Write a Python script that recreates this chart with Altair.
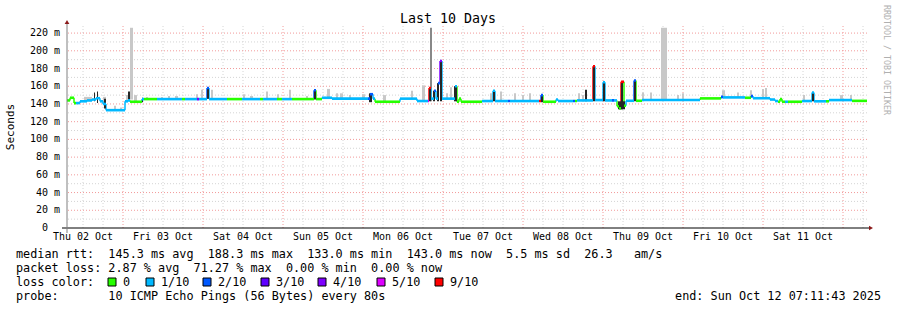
import altair as alt
import pandas as pd

START = pd.Timestamp("2025-10-02 07:11:43")
SPAN_H = 240.0

# median rtt steps: hours since start, value (ms), lost pings out of 10
med_h = [0.0, 0.9, 2.1, 2.7, 3.9, 6.0, 7.5, 8.7, 9.9, 10.8, 11.7, 17.4, 18.3, 18.9, 22.5, 23.1,
         27.0, 34.5, 35.4, 39.0, 39.6, 42.0, 42.6, 48.0, 52.5, 57.9, 58.8, 63.0, 64.5, 67.5,
         74.1, 74.7, 76.5, 79.5, 90.3, 90.9, 91.8, 92.4, 99.9, 105.0, 108.3, 108.6, 109.2,
         110.1, 110.7, 111.3, 111.9, 112.5, 116.4, 117.0, 117.6, 118.2, 124.5, 127.8, 128.4,
         132.3, 132.9, 141.6, 142.2, 142.8, 146.7, 147.3, 151.8, 152.4, 153.0, 157.8, 158.4,
         160.8, 161.4, 163.5, 164.1, 165.0, 165.6, 166.2, 167.1, 167.7, 170.1, 170.7, 172.5,
         189.9, 196.2, 196.8, 203.4, 205.2, 205.8, 210.9, 212.4, 213.3, 213.9, 214.5, 215.4,
         216.3, 220.5, 223.5, 224.1, 227.7, 228.6, 235.5]
med_v = [144, 147, 141, 141, 143, 144, 145, 146.5, 143, 140, 133, 143, 144, 142.5, 145.5, 145.5,
         145.5, 145.5, 145.5, 145.5, 145.5, 158, 145.5, 145.5, 145.5, 145.5, 145.5, 145.5, 145.5, 145.5,
         155.5, 145.5, 147, 146, 146, 151, 146, 142.5, 146, 143.3, 143.3, 158, 146,
         155, 146, 163.5, 188.5, 146, 160, 142.5, 146, 142.5, 143.3, 155, 143.3,
         143.3, 143.3, 143.3, 150, 142.5, 145, 143.3, 143.3, 143.3, 144, 182.5, 144.4,
         164.5, 144, 144, 144, 137.5, 135, 165, 138, 143.6, 166.5, 143.6, 144.4,
         146.3, 148, 147.4, 147, 149, 146.5, 145, 143.3, 142.5, 145.5, 142.5, 142.5,
         142.5, 143.3, 153, 143, 143, 144.4, 143.5]
med_loss = [0, 0, 0, 1, 1, 1, 1, 1, 1, 1, 1, 1, 1, 0, 1, 0,
            1, 0, 1, 4, 1, 2, 1, 0, 1, 0, 1, 0, 1, 0,
            2, 0, 1, 1, 2, 2, 1, 0, 1, 1, 5, 9, 1,
            2, 1, 2, 4, 1, 1, 0, 0, 0, 1, 1, 1,
            2, 1, 9, 2, 0, 1, 1, 2, 0, 1, 9, 1,
            1, 1, 2, 1, 0, 0, 9, 0, 1, 2, 0, 1,
            0, 2, 1, 0, 2, 1, 1, 1, 0, 0, 0, 1,
            0, 1, 1, 1, 0, 1, 0]

# smoke (spread of the pings): start/end hours, low/high ms, shade 0 light / 1 mid / 2 dark
smoke_h0 = [5.1, 10.8, 14.1, 15.9, 17.7, 18.9, 20.1, 23.7, 28.2, 30.3, 32.4, 38.7, 40.2, 43.2,
            52.8, 54.9, 59.7, 63.0, 66.6, 71.7, 78.0, 80.7, 81.9, 84.6, 88.5, 94.8, 103.2, 106.5,
            113.7, 114.9, 126.9, 129.9, 134.1, 136.5, 138.6, 153.3, 154.5, 172.5, 174.9, 178.2,
            183.0, 184.5, 196.5, 201.0, 204.9, 208.5, 209.4, 220.8, 231.9, 234.9,
            108.9,
            8.1, 9.0, 11.1, 18.3, 22.5, 42.0, 74.1, 90.6, 108.6, 109.8, 111.0, 111.9, 116.1,
            127.8, 142.2, 155.4, 157.8, 160.8, 165.3, 166.2, 170.1, 223.5]
smoke_h1 = [7.5, 11.7, 14.7, 16.5, 18.3, 19.8, 21.0, 24.3, 28.8, 30.9, 33.3, 39.3, 40.8, 43.8,
            53.4, 55.8, 60.3, 63.6, 67.2, 72.3, 78.9, 81.3, 82.8, 85.2, 89.4, 95.7, 103.8, 107.4,
            114.3, 115.5, 127.5, 130.5, 134.7, 137.1, 139.2, 153.9, 155.1, 173.1, 175.5, 180.0,
            183.6, 185.1, 197.4, 201.6, 205.5, 209.1, 210.0, 221.4, 232.8, 235.5,
            109.5,
            8.4, 9.3, 11.7, 18.9, 22.8, 42.6, 74.7, 91.5, 109.2, 110.4, 111.6, 112.5, 117.0,
            128.4, 142.8, 156.0, 158.4, 161.4, 167.4, 166.8, 170.7, 224.1]
smoke_lo = [143, 140, 133, 133, 144, 145, 143, 146, 146, 146, 146, 146, 146, 146,
            146, 146, 146, 146, 146, 146, 146, 146, 146, 146, 146, 142, 146, 143,
            146, 146, 143, 143, 143, 143, 143, 143, 143, 144, 144, 144,
            144, 144, 147, 147, 147, 146, 146, 143, 144, 144,
            143,
            143, 141, 135, 144, 142, 146, 145, 142, 143, 143, 143, 143, 143,
            143, 142, 143, 143, 143, 134, 134, 143, 143]
smoke_hi = [148, 148, 138, 136, 150, 226, 150, 148, 148, 149, 149, 151, 156, 156,
            151, 149, 154, 151, 156, 149, 157, 152, 152, 150, 151, 150, 155, 161,
            152, 159, 152, 154, 152, 150, 152, 152, 150, 153, 153, 226,
            150, 152, 155.5, 153, 155.5, 157, 158, 150, 150, 150,
            226,
            153, 154, 146, 154, 147, 158, 155.5, 152, 158, 155, 163.5, 188.5, 160,
            155, 150, 156, 182.5, 164.5, 143, 165, 166.5, 153]
smoke_kind = [0] * 50 + [1] + [2] * 22

loss_values = [0, 1, 2, 3, 4, 5, 9]
loss_labels = ["0", "1/10", "2/10", "3/10", "4/10", "5/10", "9/10"]
loss_colors = ["#26ff00", "#00b8ff", "#0059ff", "#5e00ff", "#7e00ff", "#dd00ff", "#ff0000"]
smoke_colors = ["#c8c8c8", "#888888", "#262626"]

y_ticks = list(range(0, 221, 20))
y_tick_labels = ["0"] + [f"{v} m" for v in y_ticks[1:]]
y_minor = list(range(10, 221, 20))
day_dates = list(range(2, 12))
day_labels = ["Thu 02 Oct", "Fri 03 Oct", "Sat 04 Oct", "Sun 05 Oct", "Mon 06 Oct",
              "Tue 07 Oct", "Wed 08 Oct", "Thu 09 Oct", "Fri 10 Oct", "Sat 11 Oct"]

line1 = "median rtt:  145.3 ms avg  188.3 ms max  133.0 ms min  143.0 ms now  5.5 ms sd  26.3   am/s"
line2 = "packet loss: 2.87 % avg  71.27 % max  0.00 % min  0.00 % now"
line3 = "loss color:"
line4 = "probe:       10 ICMP Echo Pings (56 Bytes) every 80s"
end_text = "end: Sun Oct 12 07:11:43 2025"
title_text = "Last 10 Days"
side_text = "RRDTOOL / TOBI OETIKER"
y_title = "Seconds"

MONO = "DejaVu Sans Mono"
NBSP = "\u00a0"


def ts(h):
    return START + pd.to_timedelta(h, unit="h")


color_of = dict(zip(loss_values, loss_colors))
med = pd.DataFrame({
    "t0": [ts(h) for h in med_h],
    "t1": [ts(h) for h in med_h[1:] + [SPAN_H]],
    "v": med_v,
    "pv": [med_v[0]] + med_v[:-1],
    "c": [color_of[l] for l in med_loss],
})
smoke = pd.DataFrame({
    "t0": [ts(h) for h in smoke_h0],
    "t1": [ts(h) for h in smoke_h1],
    "lo": smoke_lo,
    "hi": smoke_hi,
    "c": [smoke_colors[k] for k in smoke_kind],
    "k": smoke_kind,
})
ylab = pd.DataFrame({"v": y_ticks, "lab": [s.replace(" ", NBSP) for s in y_tick_labels]})
xlab = pd.DataFrame({"t": [pd.Timestamp(2025, 10, d, 12) for d in day_dates],
                     "lab": [s.replace(" ", NBSP) for s in day_labels]})

xs = alt.Scale(domain=[alt.DateTime(year=2025, month=10, date=2, hours=7, minutes=11, seconds=43),
                       alt.DateTime(year=2025, month=10, date=12, hours=7, minutes=11, seconds=43)])
ys = alt.Scale(domain=[0, 228], nice=False, zero=False)

six = pd.date_range("2025-10-02 12:00", "2025-10-12 06:00", freq="6h")
minor_v = pd.DataFrame({"t": [t for t in six if t.hour != 0]})
major_v = pd.DataFrame({"t": [t for t in six if t.hour == 0]})
dummy = pd.DataFrame({"a": [0]})

X = lambda f: alt.X(f, scale=xs, axis=None)
Y = lambda f: alt.Y(f, scale=ys, axis=None)

layers = []
# grid
layers.append(alt.Chart(pd.DataFrame({"v": y_minor})).mark_rule(color="#d4d4d4", strokeDash=[1, 2], strokeWidth=1)
              .encode(y=Y("v:Q")))
layers.append(alt.Chart(minor_v).mark_rule(color="#d4d4d4", strokeDash=[1, 2], strokeWidth=1)
              .encode(x=X("t:T")))
layers.append(alt.Chart(pd.DataFrame({"v": y_ticks[1:]})).mark_rule(color="#f29a9a", strokeDash=[1, 2], strokeWidth=1)
              .encode(y=Y("v:Q")))
layers.append(alt.Chart(major_v).mark_rule(color="#f29a9a", strokeDash=[1, 2], strokeWidth=1)
              .encode(x=X("t:T")))
# tick labels (the bare "0" sits where the digits of the other labels end)
layers.append(alt.Chart(ylab).transform_filter("datum.v > 0")
              .mark_text(font=MONO, fontSize=10, align="right", baseline="middle", color="#000")
              .encode(y=Y("v:Q"), x=alt.value(-7), text="lab:N"))
layers.append(alt.Chart(ylab).transform_filter("datum.v == 0")
              .mark_text(font=MONO, fontSize=10, align="right", baseline="middle", color="#000")
              .encode(y=Y("v:Q"), x=alt.value(-19), text="lab:N"))
layers.append(alt.Chart(xlab).mark_text(font=MONO, fontSize=10, align="center", baseline="middle", color="#000")
              .encode(x=X("t:T"), y=alt.value(211), text="lab:N"))
# light / mid smoke
layers.append(alt.Chart(smoke).transform_filter("datum.k < 2").mark_rect()
              .encode(x=X("t0:T"), x2="t1:T", y=Y("lo:Q"), y2="hi:Q",
                      color=alt.Color("c:N", scale=None)))
# connectors
layers.append(alt.Chart(med.iloc[1:]).mark_rule(strokeWidth=1.5)
              .encode(x=X("t0:T"), y=Y("pv:Q"), y2="v:Q",
                      color=alt.Color("c:N", scale=None)))
# dark smoke
layers.append(alt.Chart(smoke).transform_filter("datum.k == 2").mark_rect()
              .encode(x=X("t0:T"), x2="t1:T", y=Y("lo:Q"), y2="hi:Q",
                      color=alt.Color("c:N", scale=None)))
# median steps
layers.append(alt.Chart(med).mark_rule(strokeWidth=2.6, strokeCap="butt")
              .encode(x=X("t0:T"), x2="t1:T", y=Y("v:Q"),
                      color=alt.Color("c:N", scale=None)))
# axis lines and arrows
layers.append(alt.Chart(dummy).mark_rule(color="#000", strokeWidth=1)
              .encode(x=alt.value(-5), x2=alt.value(804), y=alt.value(202)))
layers.append(alt.Chart(dummy).mark_rule(color="#808080", strokeWidth=1)
              .encode(x=alt.value(0), y=alt.value(-3), y2=alt.value(207)))
layers.append(alt.Chart(dummy).mark_point(shape="triangle-up", filled=True, size=22, color="#8b1a1a", opacity=1)
              .encode(x=alt.value(0), y=alt.value(-4)))
layers.append(alt.Chart(dummy).mark_point(shape="triangle-right", filled=True, size=22, color="#8b1a1a", opacity=1)
              .encode(x=alt.value(804), y=alt.value(202)))


def txt(s, x, y, size=11.8, align="left", color="#000", angle=0, font=MONO):
    kw = dict(font=font, fontSize=size, align=align, baseline="middle", color=color)
    if angle:
        kw["angle"] = angle
    return alt.Chart(dummy).mark_text(**kw).encode(text=alt.value(s.replace(" ", NBSP)),
                                                  x=alt.value(x), y=alt.value(y))


layers.append(txt(title_text, 381, -7, size=13.3, align="center"))
layers.append(txt(y_title, -56, 101, size=11, align="center", angle=270))
layers.append(txt(side_text, 819, 34, size=8.3, align="center", color="#b0b0b0", angle=90))
layers.append(txt(line1, -51, 228))
layers.append(txt(line2, -51, 242))
layers.append(txt(line3, -51, 256))
layers.append(txt(line4, -51, 270))
layers.append(txt(end_text, 814, 270, align="right"))

box_left = [108, 146, 203, 261, 318, 377, 435]
for bx, lab, col in zip(box_left, loss_labels, loss_colors):
    layers.append(alt.Chart(dummy).mark_rect(fill=col, stroke="#000", strokeWidth=1)
                  .encode(x=alt.value(bx - 67), x2=alt.value(bx - 67 + 8),
                          y=alt.value(278 - 26), y2=alt.value(286 - 26)))
    layers.append(txt(lab, bx - 67 + 15, 256))

chart = alt.layer(*layers).properties(
    width=800, height=202,
    autosize=alt.AutoSizeParams(type="none"),
    padding={"left": 67, "top": 26, "right": 30, "bottom": 82},
    background="white",
).configure_view(stroke=None)

chart.save("out.html", embed_options={"renderer": "svg", "actions": False})
